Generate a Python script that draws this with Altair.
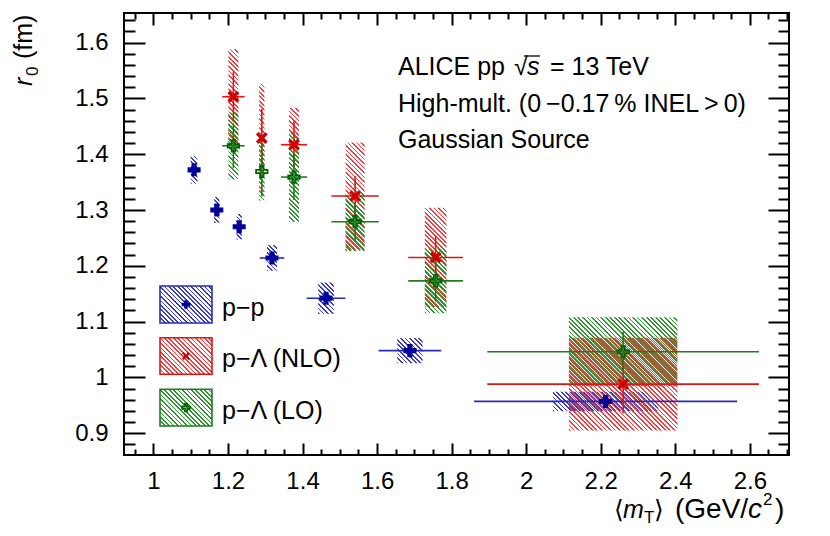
import math
import altair as alt
import pandas as pd

# ---------------- data ----------------
pp_mt      = [1.109, 1.170, 1.230, 1.318, 1.463, 1.688, 2.213]
pp_mt_err  = [0.010, 0.010, 0.010, 0.033, 0.052, 0.084, 0.353]
pp_mt_sys  = [0.009, 0.007, 0.007, 0.0134, 0.021, 0.034, 0.1415]
pp_r       = [1.372, 1.300, 1.270, 1.214, 1.142, 1.048, 0.957]
pp_r_stat  = [0.005, 0.005, 0.005, 0.005, 0.005, 0.005, 0.005]
pp_r_sys   = [0.025, 0.023, 0.023, 0.023, 0.028, 0.0225, 0.0175]

pl_mt      = [1.2145, 1.2907, 1.377, 1.541, 1.757, 2.260]
pl_mt_err  = [0.030, 0.006, 0.035, 0.0635, 0.0735, 0.3645]
pl_mt_sys  = [0.0134, 0.007, 0.0134, 0.0255, 0.029, 0.1455]
nlo_r      = [1.503, 1.429, 1.417, 1.325, 1.215, 0.988]
nlo_r_stat = [0.044, 0.052, 0.043, 0.036, 0.038, 0.052]
nlo_r_sys  = [0.085, 0.097, 0.066, 0.096, 0.089, 0.083]
lo_r       = [1.415, 1.369, 1.359, 1.279, 1.173, 1.046]
lo_r_stat  = [0.040, 0.045, 0.041, 0.033, 0.037, 0.036]
lo_r_sys   = [0.060, 0.052, 0.080, 0.053, 0.058, 0.062]

x_major = [1.0, 1.2, 1.4, 1.6, 1.8, 2.0, 2.2, 2.4, 2.6]
x_minor = [0.95, 1.05, 1.1, 1.15, 1.25, 1.3, 1.35, 1.45, 1.5, 1.55, 1.65, 1.7,
           1.75, 1.85, 1.9, 1.95, 2.05, 2.1, 2.15, 2.25, 2.3, 2.35, 2.45, 2.5,
           2.55, 2.65, 2.7]
y_major = [0.9, 1.0, 1.1, 1.2, 1.3, 1.4, 1.5, 1.6]
y_minor = [0.88, 0.92, 0.94, 0.96, 0.98, 1.02, 1.04, 1.06, 1.08, 1.12, 1.14,
           1.16, 1.18, 1.22, 1.24, 1.26, 1.28, 1.32, 1.34, 1.36, 1.38, 1.42,
           1.44, 1.46, 1.48, 1.52, 1.54, 1.56, 1.58, 1.62, 1.64]

series_names  = ["p\u2212p", "p\u2212\u039b (NLO)", "p\u2212\u039b (LO)"]

# ---------------- layout / style ----------------
W, H = 665, 442
XDOM = [0.921, 2.705]
YDOM = [0.861, 1.653]
PXX = W / (XDOM[1] - XDOM[0])
PXY = H / (YDOM[1] - YDOM[0])
FONT = "Liberation Sans"

X_SHAPE = ("M-1,-0.6L-0.6,-1L0,-0.4L0.6,-1L1,-0.6L0.4,0L1,0.6L0.6,1L0,0.4"
           "L-0.6,1L-1,0.6L-0.4,0Z")
PLUS_SHAPE = "M-0.3,-1H0.3V-0.3H1V0.3H0.3V1H-0.3V0.3H-1V-0.3H-0.3Z"

styles = {
    "pp":  dict(mark="#000099", line="#2a2ab4", hatch="#3a3ac8",
                shape="cross", filled=True, size=170),
    "nlo": dict(mark="#cc0000", line="#e01414", hatch="#f03c3c",
                shape=X_SHAPE, filled=True, size=140),
    "lo":  dict(mark="#006400", line="#1d7d1d", hatch="#2f932f",
                shape=PLUS_SHAPE, filled=False, size=130),
}

rows = []
def add(name, mt, mte, mts, r, rst, rsy):
    for i in range(len(mt)):
        rows.append(dict(s=name, i=i, mt=mt[i], mt_lo=mt[i] - mte[i], mt_hi=mt[i] + mte[i],
                         r=r[i], r_lo=r[i] - rst[i], r_hi=r[i] + rst[i],
                         bx1=mt[i] - mts[i], bx2=mt[i] + mts[i],
                         by1=r[i] - rsy[i], by2=r[i] + rsy[i]))
add("pp", pp_mt, pp_mt_err, pp_mt_sys, pp_r, pp_r_stat, pp_r_sys)
add("nlo", pl_mt, pl_mt_err, pl_mt_sys, nlo_r, nlo_r_stat, nlo_r_sys)
add("lo", pl_mt, pl_mt_err, pl_mt_sys, lo_r, lo_r_stat, lo_r_sys)
df = pd.DataFrame(rows)
one = pd.DataFrame({"k": [0]})

XS = alt.Scale(domain=XDOM, nice=False, zero=False)
YS = alt.Scale(domain=YDOM, nice=False, zero=False)


def hatch(w, h, color, period=3.2, frac=0.38):
    """diagonal (\\) hatching as a striped linear gradient over a w x h px box"""
    a = (w + h) * w / (w * w + h * h)
    b = -(w + h) * h / (w * w + h * h)
    n = max(1, int(round((w + h) / (math.sqrt(2) * period))))
    clear = "rgba(255,255,255,0)"
    stops = []
    for k in range(n):
        t0, t1, t2 = k / n, (k + frac) / n, (k + 1) / n
        stops += [alt.GradientStop(offset=t0, color=color),
                  alt.GradientStop(offset=t1, color=color),
                  alt.GradientStop(offset=t1, color=clear),
                  alt.GradientStop(offset=t2, color=clear)]
    return alt.LinearGradient(gradient="linear", x1=0, y1=1, x2=a, y2=1 + b, stops=stops)


def ax(orient, values, size, labels=False, pad=0):
    kw = dict(orient=orient, values=values, tickSize=alt.ExprRef(expr=str(-size)),
              tickWidth=2, tickColor="black", domain=False, grid=False,
              labels=labels, title=None, ticks=True)
    if labels:
        kw.update(labelFont=FONT, labelFontSize=24, labelColor="black",
                  labelPadding=pad, format=".1~f", labelFlush=False, labelOverlap=False)
    return alt.Axis(**kw)

AX = {
    "bottom_lab": ax("bottom", x_major, 12, True, 26),
    "bottom_min": ax("bottom", x_minor, 6),
    "top_maj": ax("top", x_major, 12),
    "top_min": ax("top", x_minor, 6),
    "left_lab": ax("left", y_major, 21, True, 37),
    "left_min": ax("left", y_minor, 11),
    "right_maj": ax("right", y_major, 21),
    "right_min": ax("right", y_minor, 11),
}


def marker_kw(st, scale=1.0):
    mk = dict(shape=st["shape"], size=st["size"] * scale, opacity=1, filled=st["filled"])
    if st["filled"]:
        mk.update(fill=st["mark"], strokeWidth=0)
    else:
        mk.update(stroke=st["mark"], strokeWidth=1.8)
    return mk


layers = []
# systematic boxes
for key in ["pp", "nlo", "lo"]:
    sub = df[df.s == key].reset_index(drop=True)
    for i in range(len(sub)):
        w = (sub.bx2[i] - sub.bx1[i]) * PXX
        h = (sub.by2[i] - sub.by1[i]) * PXY
        xa = AX["top_min"] if (key == "pp" and i == 0) else None
        ya = AX["right_min"] if (key == "pp" and i == 0) else None
        layers.append(
            alt.Chart(df).transform_filter((alt.datum.s == key) & (alt.datum.i == i))
            .mark_rect(fill=hatch(w, h, styles[key]["hatch"]), strokeWidth=0)
            .encode(x=alt.X("bx1:Q", scale=XS, axis=xa), x2="bx2:Q",
                    y=alt.Y("by1:Q", scale=YS, axis=ya), y2="by2:Q"))

# error bars
for key in ["pp", "nlo", "lo"]:
    st = styles[key]
    base = alt.Chart(df).transform_filter(alt.datum.s == key)
    layers.append(base.mark_rule(color=st["line"], strokeWidth=1.6).encode(
        x=alt.X("mt_lo:Q", scale=XS, axis=AX["bottom_min"] if key == "pp" else None),
        x2="mt_hi:Q",
        y=alt.Y("r:Q", scale=YS, axis=AX["left_min"] if key == "pp" else None)))
    layers.append(base.mark_rule(color=st["line"], strokeWidth=1.6).encode(
        x=alt.X("mt:Q", scale=XS, axis=AX["top_maj"] if key == "pp" else None),
        y=alt.Y("r_lo:Q", scale=YS, axis=AX["right_maj"] if key == "pp" else None),
        y2="r_hi:Q"))

# markers
for key in ["pp", "lo", "nlo"]:
    st = styles[key]
    layers.append(alt.Chart(df).transform_filter(alt.datum.s == key)
                  .mark_point(**marker_kw(st)).encode(
        x=alt.X("mt:Q", scale=XS, axis=AX["bottom_lab"] if key == "pp" else None),
        y=alt.Y("r:Q", scale=YS, axis=AX["left_lab"] if key == "pp" else None)))

# ---------------- legend ----------------
leg_rows = [(273, 310), (324.7, 361.3), (376.3, 413)]
for (y1, y2), key, label in zip(leg_rows, ["pp", "nlo", "lo"], series_names):
    st = styles[key]
    layers.append(alt.Chart(one).mark_rect(fill=hatch(52, y2 - y1, st["hatch"]),
                                           stroke=st["line"], strokeWidth=1.6).encode(
        x=alt.value(36), x2=alt.value(88), y=alt.value(y1), y2=alt.value(y2)))
    layers.append(alt.Chart(one).mark_point(**marker_kw(st, 0.45)).encode(
        x=alt.value(62), y=alt.value((y1 + y2) / 2)))
    layers.append(alt.Chart(one).mark_text(text=label, font=FONT, fontSize=25, align="left",
                                           baseline="alphabetic", color="black").encode(
        x=alt.value(98), y=alt.value(y2 - 7)))


def txt(t, x, y, size=25, italic=False, angle=0):
    kw = dict(text=t, font=FONT, fontSize=size, align="left", baseline="alphabetic",
              color="black")
    if italic:
        kw["fontStyle"] = "italic"
    if angle:
        kw["angle"] = angle
    return alt.Chart(one).mark_text(**kw).encode(x=alt.value(x), y=alt.value(y))

# annotation text
layers += [
    txt("ALICE pp", 274, 62),
    txt("\u221a", 390, 62),
    txt("s", 403, 62, italic=True),
    alt.Chart(one).mark_rule(color="black", strokeWidth=1.3).encode(
        x=alt.value(400), x2=alt.value(416), y=alt.value(43)),
    txt("= 13 TeV", 426, 62),
    txt("High-mult. (0\u2009\u22120.17\u2009% INEL\u2009>\u20090)", 274, 99),
    txt("Gaussian Source", 274, 135),
]

# axis titles
TB = 505
layers += [
    txt("r", -92, 73, italic=True, angle=270),
    txt("0", -86, 63, size=17, angle=270),
    txt("(fm)", -92, 46, angle=270),
    txt("\u27e8", 490, TB),
    txt("m", 499, TB, italic=True),
    txt("T", 520, TB + 5, size=17),
    txt("\u27e9", 530, TB),
    txt("(GeV/", 551, TB, size=28),
    txt("c", 624, TB, size=28, italic=True),
    txt("2", 639, TB - 13, size=17),
    txt(")", 651, TB, size=28),
]

chart = (
    alt.layer(*layers)
    .resolve_axis(x="independent", y="independent")
    .properties(width=W, height=H,
                padding={"left": 116, "top": 5, "right": 33, "bottom": 73},
                autosize=alt.AutoSizeParams(type="none"),
                background="white")
    .configure_view(stroke="black", strokeWidth=2)
)

chart.save("out.html", embed_options={"renderer": "svg", "actions": False})
